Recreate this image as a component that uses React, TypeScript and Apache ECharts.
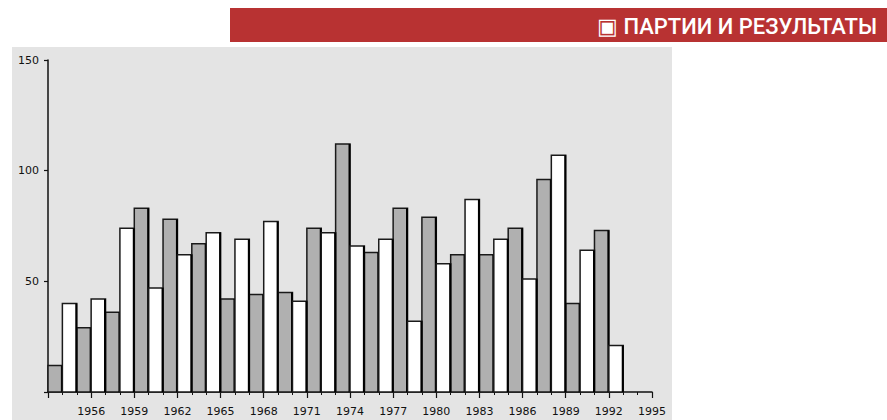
import React, { useEffect, useRef } from "react";
import * as echarts from "echarts";

const title = "▣ ПАРТИИ И РЕЗУЛЬТАТЫ";
const grayYears = [1953, 1955, 1957, 1959, 1961, 1963, 1965, 1967, 1969, 1971, 1973, 1975, 1977, 1979, 1981, 1983, 1985, 1987, 1989, 1991];
const grayValues = [12, 29, 36, 83, 78, 67, 42, 44, 45, 74, 112, 63, 83, 79, 62, 62, 74, 96, 40, 73];
const whiteYears = [1954, 1956, 1958, 1960, 1962, 1964, 1966, 1968, 1970, 1972, 1974, 1976, 1978, 1980, 1982, 1984, 1986, 1988, 1990, 1992];
const whiteValues = [40, 42, 74, 47, 62, 72, 69, 77, 41, 72, 66, 69, 32, 58, 87, 69, 51, 107, 64, 21];
const xMin = 1953;
const xMax = 1995;
const xStep = 3;
const yMax = 150;
const yStep = 50;

const renderBar = (fill: string) => (params: any, api: any) => {
  const x = api.value(0);
  const v = api.value(1);
  const p0 = api.coord([x, v]);
  const p1 = api.coord([x + 1, 0]);
  return {
    type: "group",
    children: [
      {
        type: "rect",
        shape: { x: p0[0], y: p0[1], width: p1[0] - p0[0], height: p1[1] - p0[1] },
        style: { fill, stroke: "#1a1a1a", lineWidth: 1.5 },
      },
      {
        type: "line",
        shape: { x1: p1[0] - 0.5, y1: p0[1], x2: p1[0] - 0.5, y2: p1[1] },
        style: { stroke: "#000", lineWidth: 2 },
      },
    ],
  };
};

export default function App() {
  const ref = useRef<HTMLDivElement>(null);
  useEffect(() => {
    if (!ref.current) return;
    const chart = echarts.init(ref.current, null, { renderer: "svg" });
    const font = "DejaVu Sans";
    chart.setOption({
      animation: false,
      backgroundColor: "#ffffff",
      graphic: [
        {
          type: "rect",
          z: -10,
          shape: { x: 12, y: 47, width: 660, height: 380 },
          style: { fill: "#e4e4e4" },
        },
        {
          type: "rect",
          z: -10,
          shape: { x: 230, y: 8, width: 657, height: 34 },
          style: { fill: "#b83232" },
        },
        {
          type: "text",
          z: 10,
          x: 877,
          y: 26,
          style: {
            text: title,
            fill: "#ffffff",
            font: "500 22px Roboto, 'Liberation Sans', sans-serif",
            align: "right",
            verticalAlign: "middle",
          },
        },
      ],
      grid: { left: 48, right: 235, top: 60, bottom: 28, containLabel: false },
      xAxis: {
        type: "value",
        min: xMin,
        max: xMax,
        interval: xStep,
        axisLine: { show: true, onZero: false, lineStyle: { color: "#111", width: 1.5 } },
        axisTick: { show: true, length: 6, lineStyle: { color: "#111", width: 1.2 } },
        minorTick: { show: true, splitNumber: 3, length: 3, lineStyle: { color: "#111", width: 1 } },
        splitLine: { show: false },
        axisLabel: {
          margin: 14,
          color: "#111",
          fontFamily: font,
          fontSize: 11,
          formatter: (v: number) => (v === xMin ? "" : String(v)),
        },
      },
      yAxis: {
        type: "value",
        min: 0,
        max: yMax,
        interval: yStep,
        axisLine: { show: true, lineStyle: { color: "#111", width: 1.5 } },
        axisTick: { show: true, length: 4, lineStyle: { color: "#111", width: 1.2 } },
        splitLine: { show: false },
        axisLabel: {
          margin: 9,
          color: "#111",
          fontFamily: font,
          fontSize: 11,
          formatter: (v: number) => (v === 0 ? "" : String(v)),
        },
      },
      series: [
        {
          type: "custom",
          renderItem: renderBar("#b0b0b0"),
          encode: { x: 0, y: 1 },
          data: grayYears.map((y, i) => [y, grayValues[i]]),
          z: 2,
        },
        {
          type: "custom",
          renderItem: renderBar("#ffffff"),
          encode: { x: 0, y: 1 },
          data: whiteYears.map((y, i) => [y, whiteValues[i]]),
          z: 2,
        },
      ],
    });
    return () => chart.dispose();
  }, []);
  return (
    <div
      ref={ref}
      style={{ position: "fixed", left: 0, top: 0, width: 887, height: 420 }}
    />
  );
}
